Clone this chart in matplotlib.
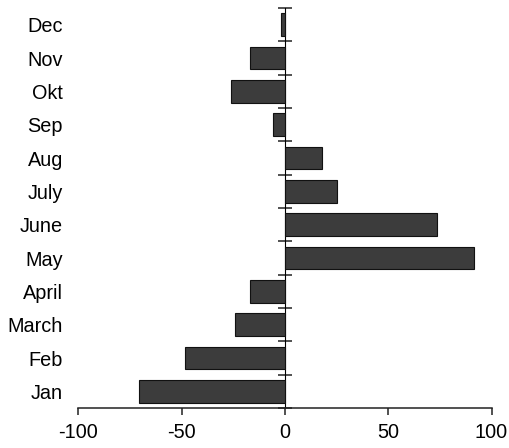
import matplotlib
matplotlib.use("Agg")
import matplotlib.pyplot as plt
import numpy as np

months = ["Jan", "Feb", "March", "April", "May", "June", "July", "Aug", "Sep", "Okt", "Nov", "Dec"]
values = [-70.7, -48.5, -24.3, -17.0, 91.7, 73.5, 25.4, 18.0, -5.7, -26.0, -16.7, -2.0]
xticks = [-100, -50, 0, 50, 100]

plt.rcParams['font.family'] = ['Liberation Sans', 'DejaVu Sans']

fig = plt.figure(figsize=(5.09, 4.48), dpi=100)
W, H = 509, 448
ax = fig.add_axes([78.3 / W, (H - 408) / H, (491.5 - 78.3) / W, 400 / H])

y = np.arange(len(months))
ax.barh(y, values, height=0.68, color='#3c3c3c', edgecolor='#111111', linewidth=0.8, zorder=2)

ax.set_xlim(-100, 100)
ax.set_ylim(-0.5, len(months) - 0.5)

for s in ['top', 'right', 'left']:
    ax.spines[s].set_visible(False)
ax.spines['bottom'].set_linewidth(1.1)
ax.spines['bottom'].set_color('#222222')

ax.set_xticks(xticks)
ax.set_xticklabels([str(v) for v in xticks], fontsize=14.3)
ax.tick_params(axis='x', direction='out', length=5, width=1.1, pad=6, colors='#222222')
ax.tick_params(axis='x', labelcolor='black')

ax.set_yticks(y)
ax.set_yticklabels(months, fontsize=14.3)
ax.tick_params(axis='y', length=0, pad=11)

# zero axis with boundary ticks
sec = ax.secondary_yaxis(0.5)
sec.set_ylim(ax.get_ylim())
sec.set_yticks(np.arange(-0.5, len(months), 1.0))
sec.set_yticklabels([])
sec.tick_params(axis='y', direction='inout', length=10, width=1.1, colors='#222222')
sec.spines['left'].set_linewidth(1.1)
sec.spines['left'].set_color('#222222')

fig.savefig("out.png", dpi=100)
